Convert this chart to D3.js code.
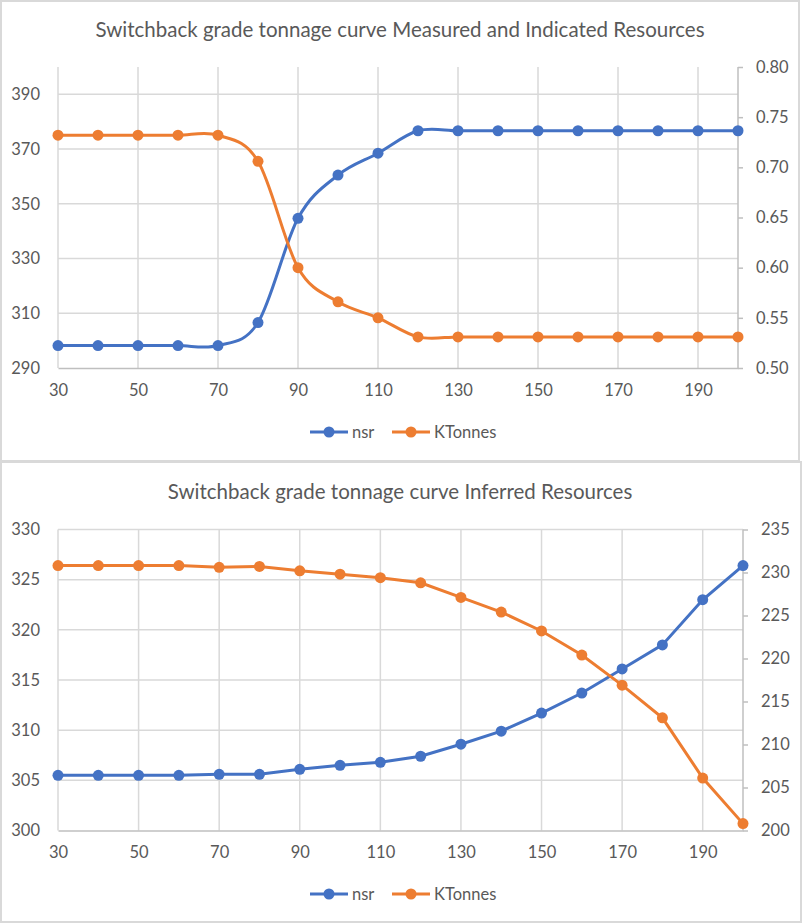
<!DOCTYPE html>
<html>
<head>
<meta charset="utf-8">
<script src="https://cdn.jsdelivr.net/npm/d3@7"></script>
<style>
  body { margin: 0; background: #fff; }
  text { font-family: Lato, "Open Sans", sans-serif; fill: #595959; }
</style>
</head>
<body>
<svg id="chart" width="802" height="924"></svg>
<script>
// cut-off grades (x axis)
const cutoffs = [30, 40, 50, 60, 70, 80, 90, 100, 110, 120, 130, 140, 150, 160, 170, 180, 190, 200];
const xTickLabels = [30, 50, 70, 90, 110, 130, 150, 170, 190];

// Measured and Indicated
const nsrMI = [298.2, 298.2, 298.2, 298.2, 298.2, 306.6, 344.7, 360.5, 368.5, 376.7, 376.7, 376.7, 376.7, 376.7, 376.7, 376.7, 376.7, 376.7];
const ktMI = [0.732, 0.732, 0.732, 0.732, 0.732, 0.706, 0.600, 0.566, 0.550, 0.531, 0.531, 0.531, 0.531, 0.531, 0.531, 0.531, 0.531, 0.531];
const leftTicksMI = [290, 310, 330, 350, 370, 390];
const rightTicksMI = [0.50, 0.55, 0.60, 0.65, 0.70, 0.75, 0.80];

// Inferred
const nsrInf = [305.5, 305.5, 305.5, 305.5, 305.6, 305.6, 306.1, 306.5, 306.8, 307.4, 308.6, 309.9, 311.7, 313.7, 316.1, 318.5, 323.0, 326.4];
const ktInf = [230.8, 230.8, 230.8, 230.8, 230.6, 230.7, 230.2, 229.8, 229.4, 228.8, 227.1, 225.4, 223.2, 220.4, 216.9, 213.1, 206.1, 200.8];
const leftTicksInf = [300, 305, 310, 315, 320, 325, 330];
const rightTicksInf = [200, 205, 210, 215, 220, 225, 230, 235];

const seriesNames = ["nsr", "KTonnes"];
const blue = "#4472C4", orange = "#ED7D31";
const gridColor = "#d9d9d9";

const svg = d3.select("#chart");

function drawChart(o) {
    const g = svg.append("g");

    // chart frame
    g.append("rect")
        .attr("x", o.box[0]).attr("y", o.box[1])
        .attr("width", o.box[2]).attr("height", o.box[3])
        .attr("fill", "#fff").attr("stroke", gridColor).attr("stroke-width", 2);

    g.append("text")
        .attr("x", 400).attr("y", o.titleY)
        .attr("text-anchor", "middle")
        .attr("font-size", 20.5)
        .text(o.title);

    const x = d3.scaleLinear().domain([30, 200]).range([o.left, o.right]);
    const yL = d3.scaleLinear().domain(o.leftDomain).range([o.bottom, o.top]);
    const yR = d3.scaleLinear().domain(o.rightDomain).range([o.bottom, o.top]);

    // gridlines
    g.selectAll(".hgrid").data(o.leftTicks.slice(1)).enter().append("line")
        .attr("x1", o.left).attr("x2", o.right)
        .attr("y1", d => yL(d)).attr("y2", d => yL(d))
        .attr("stroke", gridColor).attr("stroke-width", 1.5);
    g.selectAll(".vgrid").data(xTickLabels).enter().append("line")
        .attr("x1", d => x(d)).attr("x2", d => x(d))
        .attr("y1", o.top).attr("y2", o.bottom)
        .attr("stroke", gridColor).attr("stroke-width", 1.5);

    // bottom axis
    const xAxis = g.append("g").attr("transform", `translate(0,${o.bottom})`)
        .call(d3.axisBottom(x).tickValues(xTickLabels).tickSize(0).tickPadding(16));
    xAxis.select(".domain").attr("stroke", "#bfbfbf").attr("stroke-width", 1.5);
    xAxis.selectAll("text").attr("font-size", 16.5).attr("font-family", null);

    // left axis
    const lAxis = g.append("g").attr("transform", `translate(${o.left},0)`)
        .call(d3.axisLeft(yL).tickValues(o.leftTicks).tickSize(0).tickPadding(18));
    lAxis.select(".domain").remove();
    lAxis.selectAll("text").attr("font-size", 16.5).attr("font-family", null);

    // right axis
    const rAxis = g.append("g").attr("transform", `translate(${o.right},0)`)
        .call(d3.axisRight(yR).tickValues(o.rightTicks).tickSize(5).tickPadding(13).tickFormat(o.rightFormat));
    rAxis.select(".domain").attr("stroke", "#bfbfbf").attr("stroke-width", 1.5).attr("d", `M0,${o.top}V${o.bottom}`);
    rAxis.selectAll(".tick line").attr("stroke", "#bfbfbf").attr("stroke-width", 1.5);
    rAxis.selectAll("text").attr("font-size", 16.5).attr("font-family", null);

    // series
    const series = [
        {values: o.nsr, y: yL, color: blue},
        {values: o.kt, y: yR, color: orange}
    ];
    series.forEach(s => {
        const line = d3.line()
            .x((d, i) => x(cutoffs[i]))
            .y(d => s.y(d))
            .curve(o.curve);
        g.append("path").datum(s.values)
            .attr("d", line)
            .attr("fill", "none").attr("stroke", s.color).attr("stroke-width", 3);
        g.selectAll(null).data(s.values).enter().append("circle")
            .attr("cx", (d, i) => x(cutoffs[i]))
            .attr("cy", d => s.y(d))
            .attr("r", 5.5)
            .attr("fill", s.color);
    });

    // legend
    const legX = [310, 392];
    seriesNames.forEach((name, i) => {
        const lg = g.append("g").attr("transform", `translate(${legX[i]},${o.legendY})`);
        lg.append("line").attr("x1", 0).attr("x2", 38).attr("y1", 0).attr("y2", 0)
            .attr("stroke", series[i].color).attr("stroke-width", 3);
        lg.append("circle").attr("cx", 19).attr("cy", 0).attr("r", 5.5).attr("fill", series[i].color);
        lg.append("text").attr("x", 42).attr("y", 0).attr("dy", "0.35em")
            .attr("font-size", 16.5).text(name);
    });
}

drawChart({
    box: [1, 1, 798, 460],
    title: "Switchback grade tonnage curve Measured and Indicated Resources",
    titleY: 37,
    left: 58, right: 738, top: 67, bottom: 368,
    leftDomain: [290, 400], rightDomain: [0.5, 0.8],
    leftTicks: leftTicksMI, rightTicks: rightTicksMI,
    rightFormat: d3.format(".2f"),
    nsr: nsrMI, kt: ktMI,
    curve: d3.curveCardinal.tension(0),
    legendY: 432
});

drawChart({
    box: [1, 462, 800, 460],
    title: "Switchback grade tonnage curve Inferred Resources",
    titleY: 499,
    left: 58, right: 743, top: 529.5, bottom: 830.5,
    leftDomain: [300, 330], rightDomain: [200, 235],
    leftTicks: leftTicksInf, rightTicks: rightTicksInf,
    rightFormat: d3.format("d"),
    nsr: nsrInf, kt: ktInf,
    curve: d3.curveLinear,
    legendY: 894
});
</script>
</body>
</html>
